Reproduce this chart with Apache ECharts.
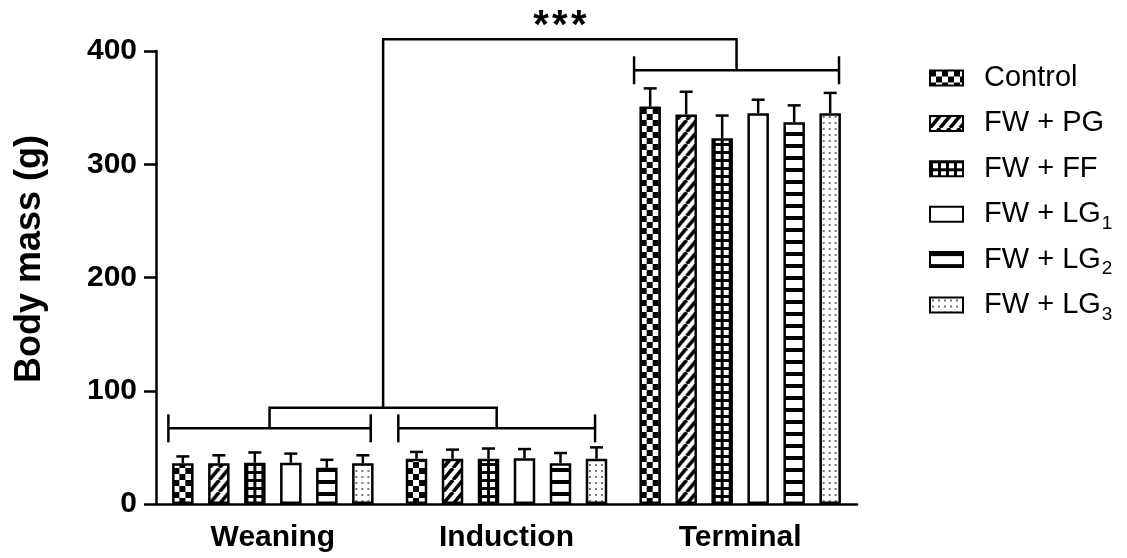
<!DOCTYPE html>
<html>
<head>
<meta charset="utf-8">
<script src="https://cdn.jsdelivr.net/npm/echarts@6/dist/echarts.min.js"></script>
<style>
  html, body { margin: 0; padding: 0; background: #fff; }
  #chart { width: 1127px; height: 558px; }
</style>
</head>
<body>
<div id="chart"></div>
<script>
// ---- data -------------------------------------------------------------
const categories = ['Weaning', 'Induction', 'Terminal'];
const groupNames = ['Control', 'FW + PG', 'FW + FF', 'FW + LG1', 'FW + LG2', 'FW + LG3'];

// mean body mass (g) per phase
const controlMean = [36, 40, 351];
const pgMean      = [36, 40, 344];
const ffMean      = [36.5, 40, 323];
const lg1Mean     = [36.5, 40.5, 345];
const lg2Mean     = [32, 36, 337];
const lg3Mean     = [36, 40, 345];

// standard deviation (upper error bar)
const controlSd = [6, 6, 16];
const pgSd      = [7, 8, 20];
const ffSd      = [9, 9, 20];
const lg1Sd     = [8, 8, 12];
const lg2Sd     = [7, 9, 15];
const lg3Sd     = [7, 10, 18];

const yTicks = [0, 100, 200, 300, 400];

// comparison brackets: [from, to, level] on a 0..3 phase scale, level in g
const phaseBrackets = [[0.053, 0.919, 66.8], [1.037, 1.879, 66.8], [2.046, 2.923, 383]];
const earlyJoinLevel = 85;
const topJoinLevel = 410.3;
const significance = '***';

// ---- styling constants ------------------------------------------------
const FONT = '"Liberation Sans", Arial, Helvetica, sans-serif';
const BAR_W = 21.5;
const PITCH = 36;
const LINE_W = 2.5;

const means = [controlMean, pgMean, ffMean, lg1Mean, lg2Mean, lg3Mean];
const sds = [controlSd, pgSd, ffSd, lg1Sd, lg2Sd, lg3Sd];

// ---- fill tiles -------------------------------------------------------
function tile(w, h, draw) {
  const c = document.createElement('canvas');
  c.width = w; c.height = h;
  const ctx = c.getContext('2d');
  ctx.fillStyle = '#fff';
  ctx.fillRect(0, 0, w, h);
  ctx.fillStyle = '#000';
  ctx.strokeStyle = '#000';
  draw(ctx, w, h);
  return c;
}
const tiles = [
  // checkerboard
  tile(12, 12, ctx => { ctx.fillRect(0, 0, 6, 6); ctx.fillRect(6, 6, 6, 6); }),
  // rising diagonal stripes
  tile(10, 12, (ctx, w, h) => {
    ctx.lineWidth = 3.6;
    for (let s = -1; s <= 1; s++) {
      ctx.beginPath(); ctx.moveTo(s * w, h); ctx.lineTo(s * w + w, 0); ctx.stroke();
    }
  }),
  // grid of white squares
  tile(8, 8, (ctx) => { ctx.fillRect(0, 0, 8, 8); ctx.fillStyle = '#fff'; ctx.fillRect(3, 2, 5, 5); }),
  // plain white
  null,
  // horizontal stripes
  tile(4, 12, (ctx) => { ctx.fillRect(0, 0, 4, 4); }),
  // sparse dots
  tile(6, 6, (ctx) => { ctx.fillStyle = '#333'; ctx.beginPath(); ctx.arc(3, 3, 0.9, 0, Math.PI * 2); ctx.fill(); })
];
function fillFor(k, x, y) {
  if (!tiles[k]) return '#fff';
  return { image: tiles[k], repeat: 'repeat', x: x || 0, y: y || 0 };
}

const txtBold = { fontFamily: FONT, fontWeight: 'bold', fontSize: 30, color: '#000' };
const axisLineStyle = { color: '#000', width: LINE_W };

const barSeries = groupNames.map((name, k) => ({
  name: name,
  type: 'bar',
  xAxisIndex: 0,
  yAxisIndex: 0,
  barWidth: BAR_W,
  barGap: ((PITCH / BAR_W - 1) * 100).toFixed(2) + '%',
  data: means[k].slice(),
  itemStyle: { color: fillFor(k), borderColor: '#000', borderWidth: LINE_W },
  emphasis: { disabled: true },
  z: 2
}));

const errorRows = [];
means.forEach((arr, k) => arr.forEach((m, i) => errorRows.push([i, k, m, sds[k][i]])));

const errorSeries = {
  name: 'sd',
  type: 'custom',
  xAxisIndex: 0,
  yAxisIndex: 0,
  silent: true,
  z: 4,
  data: errorRows,
  encode: { x: 0, y: 2 },
  renderItem: function (params, api) {
    const cat = api.value(0), k = api.value(1), m = api.value(2), sd = api.value(3);
    const p0 = api.coord([cat, m]);
    const p1 = api.coord([cat, m + sd]);
    const x = p0[0] + (k - (groupNames.length - 1) / 2) * PITCH;
    const st = { stroke: '#000', lineWidth: LINE_W };
    return {
      type: 'group',
      children: [
        { type: 'line', shape: { x1: x, y1: p0[1], x2: x, y2: p1[1] }, style: st },
        { type: 'line', shape: { x1: x - 6.5, y1: p1[1], x2: x + 6.5, y2: p1[1] }, style: st }
      ]
    };
  }
};

const bracketSeries = {
  name: 'brackets',
  type: 'custom',
  xAxisIndex: 1,
  yAxisIndex: 0,
  silent: true,
  clip: false,
  z: 6,
  data: [[0, 0]],
  renderItem: function (params, api) {
    const st = { stroke: '#000', lineWidth: LINE_W, fill: null };
    const kids = [];
    const mids = [];
    const TICK = 14;
    phaseBrackets.forEach(b => {
      const a = api.coord([b[0], b[2]]);
      const c = api.coord([b[1], b[2]]);
      kids.push({ type: 'line', shape: { x1: a[0], y1: a[1], x2: c[0], y2: c[1] }, style: st });
      kids.push({ type: 'line', shape: { x1: a[0], y1: a[1] - TICK, x2: a[0], y2: a[1] + TICK }, style: st });
      kids.push({ type: 'line', shape: { x1: c[0], y1: c[1] - TICK, x2: c[0], y2: c[1] + TICK }, style: st });
      mids.push([(b[0] + b[1]) / 2, b[2]]);
    });
    // join the two early phases
    const j = [
      api.coord(mids[0]), api.coord([mids[0][0], earlyJoinLevel]),
      api.coord([mids[1][0], earlyJoinLevel]), api.coord(mids[1])
    ];
    kids.push({ type: 'polyline', shape: { points: j }, style: st });
    // join early phases with the terminal phase
    const mEarly = (mids[0][0] + mids[1][0]) / 2;
    const t = [
      api.coord([mEarly, earlyJoinLevel]), api.coord([mEarly, topJoinLevel]),
      api.coord([mids[2][0], topJoinLevel]), api.coord(mids[2])
    ];
    kids.push({ type: 'polyline', shape: { points: t }, style: st });
    const star = api.coord([(mEarly + mids[2][0]) / 2, topJoinLevel]);
    kids.push({
      type: 'text',
      x: star[0], y: star[1] - 12,
      style: {
        // hair spaces keep the asterisks slightly apart
        text: significance.split('').join('\u200A'),
        fontFamily: FONT, fontWeight: 'bold', fontSize: 40,
        fill: '#000', align: 'center', verticalAlign: 'middle'
      }
    });
    return { type: 'group', children: kids };
  }
};

const option = {
  animation: false,
  backgroundColor: '#fff',
  textStyle: { fontFamily: FONT },
  grid: { left: 156, right: 270, top: 51, bottom: 54 },
  legend: {
    orient: 'vertical',
    left: 929,
    top: 59,
    padding: 0,
    icon: 'rect',
    itemWidth: 33,
    itemHeight: 15,
    itemGap: 7.4,
    selectedMode: false,
    data: groupNames,
    formatter: name => name.replace(/LG(\d)$/, 'LG{sub|$1}'),
    textStyle: {
      fontFamily: FONT, fontSize: 29, lineHeight: 38, color: '#000', padding: [0, 0, 0, 16],
      rich: { sub: { fontFamily: FONT, fontSize: 19, lineHeight: 19, color: '#000', verticalAlign: 'bottom', padding: [19, 0, 0, 1] } }
    }
  },
  xAxis: [
    {
      type: 'category',
      data: categories,
      axisLine: { show: true, lineStyle: axisLineStyle },
      axisTick: { show: false },
      axisLabel: Object.assign({ margin: 19 }, txtBold),
      splitLine: { show: false }
    },
    { type: 'value', min: 0, max: categories.length, show: false }
  ],
  yAxis: {
    type: 'value',
    min: yTicks[0],
    max: yTicks[yTicks.length - 1],
    interval: yTicks[1] - yTicks[0],
    name: 'Body mass (g)',
    nameLocation: 'middle',
    nameGap: 108,
    nameTextStyle: Object.assign({}, txtBold, { fontSize: 36, padding: [0, 0, 0, 37] }),
    axisLine: { show: true, lineStyle: axisLineStyle },
    axisTick: { show: true, length: 12, lineStyle: axisLineStyle },
    axisLabel: Object.assign({ margin: 19 }, txtBold),
    splitLine: { show: false }
  },
  series: barSeries.concat([errorSeries, bracketSeries])
};

const chart = echarts.init(document.getElementById('chart'), null, { renderer: 'canvas' });
chart.setOption(option);

// anchor each bar's fill tile to that bar's own left edge
const baseY = chart.convertToPixel({ yAxisIndex: 0 }, 0);
const aligned = barSeries.map((s, k) => ({
  data: means[k].map((v, i) => {
    const cx = chart.convertToPixel({ xAxisIndex: 0 }, i);
    const left = cx + (k - (groupNames.length - 1) / 2) * PITCH - BAR_W / 2 + LINE_W / 2;
    return { value: v, itemStyle: { color: fillFor(k, left, baseY) } };
  })
}));
chart.setOption({ series: aligned });
</script>
</body>
</html>
